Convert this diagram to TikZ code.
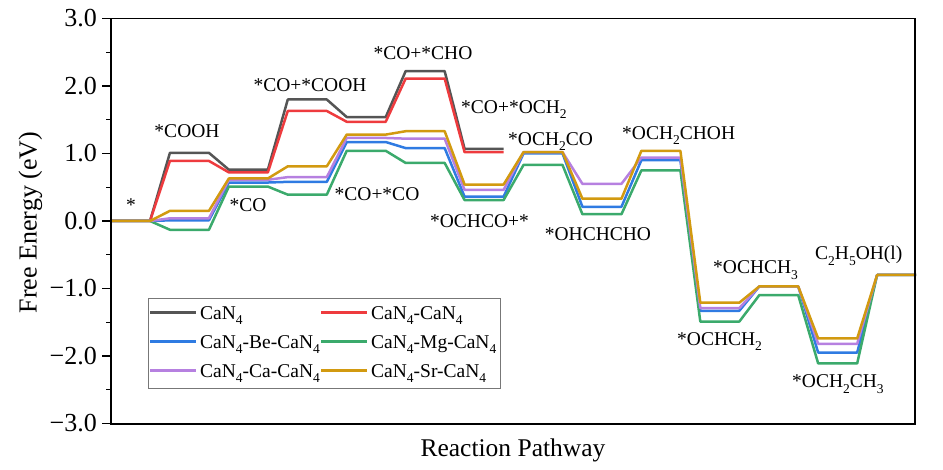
\documentclass[tikz,border=0pt]{standalone}
\usepackage{fontspec}
\setmainfont{Liberation Serif}
\definecolor{cgray}{HTML}{555555}
\definecolor{cred}{HTML}{EE3B3E}
\definecolor{cblue}{HTML}{2F7BE2}
\definecolor{cgreen}{HTML}{3BAA6C}
\definecolor{cpurple}{HTML}{B680E0}
\definecolor{cgold}{HTML}{D29A10}
\newcommand{\lv}[2]{-- (#1,#2) -- ({#1+0.662},#2)}
\newcommand{\lbl}{\fontsize{19.5}{21}\selectfont}
\newcommand{\axf}{\fontsize{26}{28}\selectfont}
\newcommand{\sub}[1]{\raisebox{-0.26em}{\fontsize{13.5}{14}\selectfont #1}}
\tikzset{
  series/.style={line width=2.5pt, line join=round},
  sgray/.style={series, cgray},
  sred/.style={series, cred},
  sblue/.style={series, cblue},
  sgreen/.style={series, cgreen},
  spurple/.style={series, cpurple},
  sgold/.style={series, cgold},
  lab/.style={inner sep=0pt, font=\lbl},
  ticklab/.style={inner sep=0pt, anchor=east, font=\axf},
  legline/.style={line width=2.5pt},
}
\begin{document}
\begin{tikzpicture}[x=1pt,y=-1pt]
\useasboundingbox (0,0) rectangle (943,470);
% data
\begin{scope}[shift={(111,221)}, x=58.93pt, y=67.5pt]
\draw[sgray] (0,0) -- (0.662,0) \lv{1}{1.01} \lv{2}{0.76} \lv{3}{1.80} \lv{4}{1.54} \lv{5}{2.22} \lv{6}{1.07};
\draw[sred] (0,0) -- (0.662,0) \lv{1}{0.89} \lv{2}{0.72} \lv{3}{1.63} \lv{4}{1.47} \lv{5}{2.11} \lv{6}{1.02};
\draw[sblue] (0,0) -- (0.662,0) \lv{1}{0.01} \lv{2}{0.57} \lv{3}{0.58} \lv{4}{1.17} \lv{5}{1.08} \lv{6}{0.36} \lv{7}{1.00} \lv{8}{0.21} \lv{9}{0.90} \lv{10}{-1.33} \lv{11}{-0.97} \lv{12}{-1.95} \lv{13}{-0.80};
\draw[sgreen] (0,0) -- (0.662,0) \lv{1}{-0.13} \lv{2}{0.51} \lv{3}{0.39} \lv{4}{1.04} \lv{5}{0.86} \lv{6}{0.31} \lv{7}{0.83} \lv{8}{0.10} \lv{9}{0.75} \lv{10}{-1.49} \lv{11}{-1.10} \lv{12}{-2.11} \lv{13}{-0.80};
\draw[spurple] (0,0) -- (0.662,0) \lv{1}{0.04} \lv{2}{0.61} \lv{3}{0.65} \lv{4}{1.23} \lv{5}{1.22} \lv{6}{0.46} \lv{7}{1.02} \lv{8}{0.55} \lv{9}{0.94} \lv{10}{-1.29} \lv{11}{-0.97} \lv{12}{-1.82} \lv{13}{-0.80};
\draw[sgold] (0,0) -- (0.662,0) \lv{1}{0.15} \lv{2}{0.63} \lv{3}{0.81} \lv{4}{1.28} \lv{5}{1.33} \lv{6}{0.54} \lv{7}{1.02} \lv{8}{0.33} \lv{9}{1.04} \lv{10}{-1.21} \lv{11}{-0.97} \lv{12}{-1.74} \lv{13}{-0.80};
\end{scope}
% frame
\draw[line width=1.6pt] (111,18.5) rectangle (915,424);
% ticks
\foreach \v/\t in {3/3.0,2/2.0,1/1.0,0/0.0,-1/{−1.0},-2/{−2.0},-3/{−3.0}}{
  \draw[line width=1.3pt] (102,221-67.5*\v) -- (111,221-67.5*\v);
  \node[ticklab] (t\v) at (97,221-67.5*\v) {\t};
}
\foreach \v in {2.5,1.5,0.5,-0.5,-1.5,-2.5}{
  \draw[line width=1.3pt] (106,221-67.5*\v) -- (111,221-67.5*\v);
}
% axis titles
\node[inner sep=0pt, font=\axf, rotate=90] (ylab) at (30.5,222.5) {Free Energy (eV)};
\node[inner sep=0pt, font=\fontsize{25.5}{27}\selectfont, anchor=base] (xlab) at (513,456.5) {Reaction Pathway};
% state labels
\node[lab, anchor=base] (l0) at (131,212) {*};
\node[lab, anchor=base] (l1) at (187,138) {*COOH};
\node[lab, anchor=base] (l2) at (248,212) {*CO};
\node[lab, anchor=base] (l3) at (310,91.5) {*CO+*COOH};
\node[lab, anchor=base] (l4) at (377,201) {*CO+*CO};
\node[lab, anchor=base] (l5) at (423,60) {*CO+*CHO};
\node[lab, anchor=base west] (l6) at (461,113.5) {*CO+*OCH\sub{2}};
\node[lab, anchor=base west] (l7) at (508,145.5) {*OCH\sub{2}CO};
\node[lab, anchor=base west] (l9) at (622,139.5) {*OCH\sub{2}CHOH};
\node[lab, anchor=base] (l6b) at (479.5,228) {*OCHCO+*};
\node[lab, anchor=base] (l8) at (598,240.5) {*OHCHCHO};
\node[lab, anchor=base west] (l11) at (713,274) {*OCHCH\sub{3}};
\node[lab, anchor=base west] (l13) at (815,260) {C\sub{2}H\sub{5}OH(l)};
\node[lab, anchor=base west] (l10) at (677,345.5) {*OCHCH\sub{2}};
\node[lab, anchor=base west] (l12) at (792,388) {*OCH\sub{2}CH\sub{3}};
% legend
\draw[cgray!80, line width=0.9pt] (148,298.5) rectangle (500,388.5);
\draw[legline, cgray] (150,312.5) -- (196,312.5);
\node[lab, anchor=base west] (g1) at (200,319.5) {CaN\sub{4}};
\draw[legline, cred] (321,312.5) -- (367,312.5);
\node[lab, anchor=base west] (g2) at (371,319.5) {CaN\sub{4}-CaN\sub{4}};
\draw[legline, cblue] (150,341.5) -- (196,341.5);
\node[lab, anchor=base west] (g3) at (200,348.5) {CaN\sub{4}-Be-CaN\sub{4}};
\draw[legline, cgreen] (321,341.5) -- (367,341.5);
\node[lab, anchor=base west] (g4) at (371,348.5) {CaN\sub{4}-Mg-CaN\sub{4}};
\draw[legline, cpurple] (150,370.7) -- (196,370.7);
\node[lab, anchor=base west] (g5) at (200,377.7) {CaN\sub{4}-Ca-CaN\sub{4}};
\draw[legline, cgold] (321,370.7) -- (367,370.7);
\node[lab, anchor=base west] (g6) at (371,377.7) {CaN\sub{4}-Sr-CaN\sub{4}};
\end{tikzpicture}
\end{document}
